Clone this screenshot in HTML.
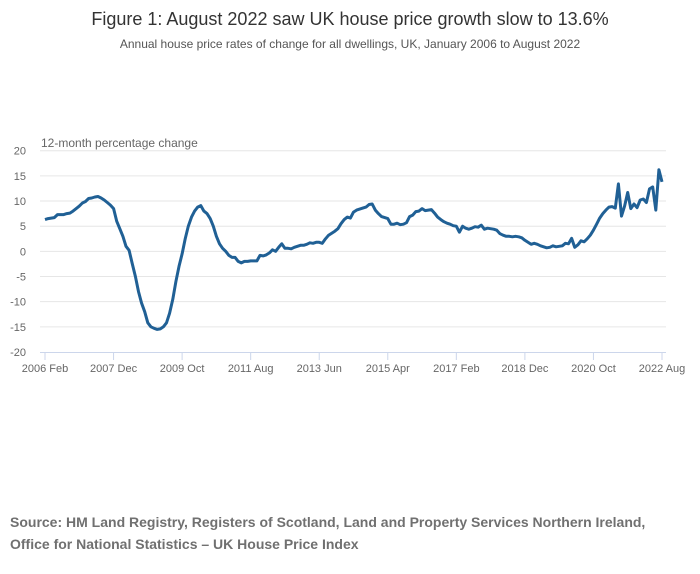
<!DOCTYPE html>
<html><head><meta charset="utf-8"><style>
body{margin:0;background:#fff;font-family:"Liberation Sans",sans-serif;}
svg{display:block}
</style></head><body>
<svg width="700" height="574" viewBox="0 0 700 574">
<text x="350" y="25" text-anchor="middle" font-size="18" fill="#333">Figure 1: August 2022 saw UK house price growth slow to 13.6%</text>
<text x="350" y="48" text-anchor="middle" font-size="12" fill="#555">Annual house price rates of change for all dwellings, UK, January 2006 to August 2022</text>
<text x="41" y="147" font-size="12" fill="#666">12-month percentage change</text>
<g id="grid"></g><g id="yt"></g><g id="xt"></g><g id="ln"></g>
<text x="10" y="527" font-size="14" font-weight="bold" fill="#707070">Source: HM Land Registry, Registers of Scotland, Land and Property Services Northern Ireland,</text>
<text x="10" y="549" font-size="14" font-weight="bold" fill="#707070">Office for National Statistics – UK House Price Index</text>
</svg>
<script>
const yTicks=[20,15,10,5,0,-5,-10,-15,-20];
const xLabels=["2006 Feb","2007 Dec","2009 Oct","2011 Aug","2013 Jun","2015 Apr","2017 Feb","2018 Dec","2020 Oct","2022 Aug"];
const xLabelMonths=[0,22,44,66,88,110,132,154,176,198];
const values=[6.3,6.5,6.6,6.7,7.3,7.3,7.3,7.5,7.6,8.0,8.5,
9.0,9.6,9.9,10.5,10.6,10.8,10.9,10.6,10.2,9.7,9.2,8.5,
6.0,4.5,3.0,1.0,0.2,-2.5,-5.0,-8.0,-10.3,-12.0,-14.2,-15.0,
-15.3,-15.5,-15.4,-15.0,-14.2,-12.3,-9.5,-6.0,-3.0,-0.5,2.5,5.0,
6.8,8.0,8.8,9.1,8.0,7.5,6.5,5.0,3.0,1.5,0.6,0.0,
-0.8,-1.2,-1.2,-2.0,-2.3,-2.0,-2.0,-1.9,-1.9,-1.9,-0.8,-0.9,
-0.7,-0.3,0.3,0.0,0.8,1.5,0.6,0.6,0.5,0.8,1.0,1.2,
1.2,1.4,1.7,1.6,1.8,1.8,1.6,2.5,3.2,3.6,4.0,4.5,
5.5,6.3,6.8,6.6,7.8,8.2,8.4,8.6,8.8,9.3,9.4,8.2,
7.5,6.9,6.7,6.5,5.4,5.4,5.6,5.3,5.4,5.7,6.9,7.2,
7.9,8.0,8.5,8.1,8.2,8.3,7.6,6.8,6.3,5.9,5.6,5.4,
5.1,5.0,3.8,5.0,4.6,4.4,4.6,4.9,4.8,5.2,4.4,4.6,
4.5,4.4,4.2,3.5,3.2,3.0,3.0,2.9,3.0,2.9,2.7,2.2,
1.8,1.4,1.6,1.4,1.1,0.9,0.7,0.8,1.1,0.9,1.0,1.1,
1.6,1.5,2.6,0.8,1.3,2.1,1.9,2.5,3.2,4.2,5.4,6.6,
7.5,8.2,8.8,8.9,8.6,13.4,7.0,9.0,11.7,8.5,9.4,8.7,
10.2,10.4,9.7,12.4,12.8,8.2,16.2,13.8];
const NS="http://www.w3.org/2000/svg";
const x0=45,x1=662,y0=150.7,y1=352;
const xs=m=>x0+(x1-x0)*m/198;
const ys=v=>y0+(20-v)*(y1-y0)/40;
function mk(t,a,p){const e=document.createElementNS(NS,t);for(const k in a)e.setAttribute(k,a[k]);document.getElementById(p).appendChild(e);return e;}
yTicks.forEach(v=>{
 if(v>-20){const g=mk('line',{x1:x0-5,x2:666,y1:ys(v),y2:ys(v),stroke:'#e6e6e6','stroke-width':1},'grid');
 
 }
 const t=mk('text',{x:26,y:ys(v)+4,'text-anchor':'end','font-size':11,fill:'#666'},'yt');t.textContent=v;
 
 
});
const ax=mk('line',{x1:x0-5,x2:666,y1:y1+0.5,y2:y1+0.5,stroke:'#ccd6eb','stroke-width':1},'grid');


xLabels.forEach((l,i)=>{
 const x=xs(xLabelMonths[i]);
 const tk=mk('line',{x1:x,x2:x,y1:y1,y2:y1+8,stroke:'#ccd6eb'},'xt');
 
 
 const t=mk('text',{x:x,y:y1+20,'text-anchor':'middle','font-size':11,fill:'#666'},'xt');t.textContent=l;
 
 
});
const d=values.map((v,i)=>(i?'L':'M')+xs(i).toFixed(1)+','+ys(v).toFixed(1)).join('');
const p=mk('path',{d:d,fill:'none',stroke:'#206095','stroke-width':3,'stroke-linejoin':'round'},'ln');


</script>
</body></html>
